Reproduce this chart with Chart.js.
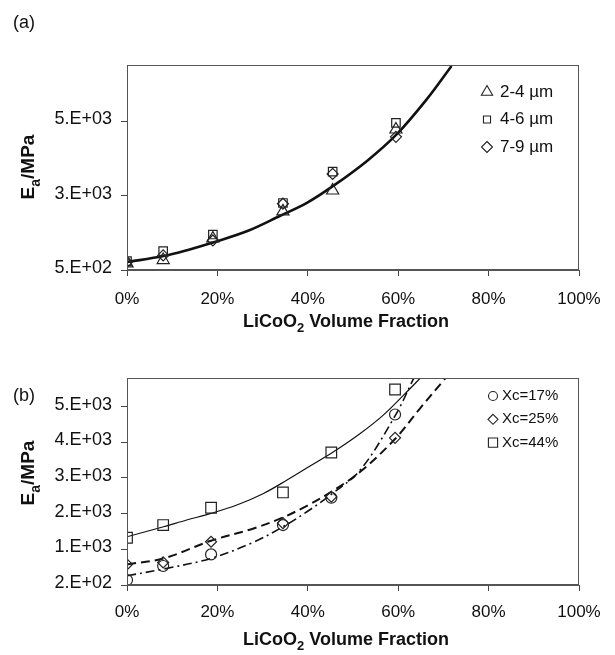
<!DOCTYPE html>
<html><head><meta charset="utf-8">
<script src="https://cdn.jsdelivr.net/npm/chart.js@4.4.1/dist/chart.umd.min.js"></script>
<style>
html,body{margin:0;padding:0;background:#fff;}
#wrap{position:relative;width:615px;height:655px;background:#fff;}
canvas{position:absolute;left:0;}
</style></head><body>
<div id="wrap">
<canvas id="ca" width="615" height="345" style="top:0"></canvas>
<canvas id="cb" width="615" height="310" style="top:345px"></canvas>
</div>
<script>
// ---------- data ----------
const xTickValues = [0, 20, 40, 60, 80, 100];
const xTickLabels = ['0%', '20%', '40%', '60%', '80%', '100%'];

// panel (a)
const aTickValues = [500, 2750, 5000];
const aTickLabels = ['5.E+02', '3.E+03', '5.E+03'];
const aX   = [0, 8, 19, 34.5, 45.5, 59.5];
const a2_4 = [701, 801, 1453, 2274, 2905, 4750];
const a4_6 = [770, 1071, 1573, 2526, 3476, 4949];
const a7_9 = [740, 942, 1393, 2505, 3407, 4528];
const aFitX = [0, 8.1, 13.3, 19.2, 26.5, 33.9, 39.8, 45.7, 53.1, 59.7, 66.3, 71.8];
const aFitY = [740, 921, 1101, 1340, 1670, 2140, 2530, 3050, 3800, 4609, 5660, 6670];
const aLabels = ['2-4 µm', '4-6 µm', '7-9 µm'];

// panel (b)
const bTickValues = [200, 1200, 2200, 3200, 4200, 5200];
const bTickLabels = ['2.E+02', '1.E+03', '2.E+03', '3.E+03', '4.E+03', '5.E+03'];
const bX   = [0, 8, 18.6, 34.5, 45.2, 59.3];
const bXc17 = [340, 732, 1057, 1880, 2644, 4977];
const bXc25 = [777, 833, 1412, 1932, 2672, 4324];
const bXc44 = [1524, 1880, 2364, 2793, 3913, 5677];
const b17FitX = [0, 8.1, 18.6, 28, 34.5, 39.8, 45.2, 51.6, 59.4, 63.4];
const b17FitY = [460, 648, 945, 1400, 1832, 2252, 2740, 3420, 4960, 5985];
const b25FitX = [0, 8.1, 18.6, 28, 34.5, 39.8, 45.2, 51.6, 59.4, 64.8, 70.4];
const b25FitY = [777, 945, 1440, 1785, 2093, 2420, 2812, 3372, 4305, 5145, 5985];
const b44FitX = [0, 8.1, 13.2, 18.6, 24.3, 30.2, 35.4, 40.5, 45.7, 51.6, 56.7, 61.2, 64.8];
const b44FitY = [1552, 1832, 2020, 2205, 2440, 2765, 3140, 3532, 3932, 4445, 4960, 5520, 5985];
const bLabels = ['Xc=17%', 'Xc=25%', 'Xc=44%'];

const xTitleParts = [['LiCoO', 0], ['2', 1], [' Volume Fraction', 0]];
const yTitleParts = [['E', 0], ['a', 1], ['/MPa', 0]];

// ---------- helpers ----------
const FONT = '"Liberation Sans", Arial, Helvetica, sans-serif';
const pts = (xs, ys) => xs.map((x, i) => ({ x: x, y: ys[i] }));

function drawRich(ctx, parts, x, y, size) {
  const fonts = parts.map(p => p[1] ? `bold ${Math.round(size * 0.72)}px ${FONT}` : `bold ${size}px ${FONT}`);
  let w = 0;
  const ws = parts.map((p, i) => { ctx.font = fonts[i]; const m = ctx.measureText(p[0]).width; w += m; return m; });
  let cx = x - w / 2;
  parts.forEach((p, i) => {
    ctx.font = fonts[i];
    ctx.fillText(p[0], cx, y + (p[1] ? size * 0.3 : 0));
    cx += ws[i];
  });
}

function drawMarker(ctx, style, r, x, y, bw) {
  ctx.beginPath();
  if (style === 'triangle') {
    for (let k = 0; k < 3; k++) {
      const a = k * 2 * Math.PI / 3;
      const px = x + Math.sin(a) * r, py = y - Math.cos(a) * r;
      k ? ctx.lineTo(px, py) : ctx.moveTo(px, py);
    }
    ctx.closePath();
  } else if (style === 'rect') {
    const s = r * Math.SQRT1_2;
    ctx.rect(x - s, y - s, 2 * s, 2 * s);
  } else if (style === 'rectRot') {
    ctx.moveTo(x, y - r); ctx.lineTo(x + r, y); ctx.lineTo(x, y + r); ctx.lineTo(x - r, y); ctx.closePath();
  } else {
    ctx.arc(x, y, r, 0, Math.PI * 2);
  }
  ctx.lineWidth = bw;
  ctx.stroke();
}

const decor = {
  id: 'decor',
  afterDraw(chart, args, o) {
    const ctx = chart.ctx, ca = chart.chartArea;
    ctx.save();
    ctx.strokeStyle = '#555';
    ctx.lineWidth = 1;
    ctx.strokeRect(Math.round(ca.left) + 0.5, Math.round(ca.top) + 0.5,
                   Math.round(ca.right - ca.left) - 1, Math.round(ca.bottom - ca.top) - 1);
    ctx.fillStyle = '#111';
    ctx.textBaseline = 'alphabetic';
    ctx.textAlign = 'left';
    ctx.font = `18px ${FONT}`;
    ctx.fillText(o.panel, o.panelX, o.panelY);
    drawRich(ctx, xTitleParts, o.xTitleX, o.xTitleY, 18);
    ctx.save();
    ctx.translate(o.yTitleX, o.yTitleY);
    ctx.rotate(-Math.PI / 2);
    drawRich(ctx, yTitleParts, 0, 0, 19);
    ctx.restore();
    ctx.textBaseline = 'middle';
    ctx.font = `${o.legFont}px ${FONT}`;
    let row = 0;
    chart.data.datasets.forEach(ds => {
      if (!ds.legendText) return;
      const y = o.legY + row * o.legDy;
      ctx.strokeStyle = '#222';
      drawMarker(ctx, ds.pointStyle, ds.legendRadius, o.legMarkX, y, 1.1);
      ctx.fillStyle = '#111';
      ctx.fillText(ds.legendText, o.legTextX, y);
      row++;
    });
    ctx.restore();
  }
};

function scaleX(tickPad) {
  return {
    type: 'linear', min: 0, max: 100,
    afterBuildTicks: s => { s.ticks = xTickValues.map(v => ({ value: v })); },
    afterFit: s => { s.height = s.chart.height - s.chart.options.plotBottom; },
    ticks: {
      callback: (v, i) => xTickLabels[i],
      font: { family: FONT, size: 17 }, color: '#111', padding: tickPad, maxRotation: 0, autoSkip: false
    },
    grid: { drawOnChartArea: false, drawTicks: true, tickLength: 6, color: '#444', lineWidth: 1 },
    border: { display: true, color: '#555', width: 1 }
  };
}
function scaleY(min, max, vals, labels) {
  return {
    type: 'linear', min: min, max: max,
    afterBuildTicks: s => { s.ticks = vals.map(v => ({ value: v })); },
    afterFit: s => { s.width = 127; },
    ticks: {
      callback: (v, i) => labels[i],
      font: { family: FONT, size: 18 }, color: '#111', padding: 9, labelOffset: -2, autoSkip: false
    },
    grid: { drawOnChartArea: false, drawTicks: true, tickLength: 6, color: '#444', lineWidth: 1 },
    border: { display: true, color: '#555', width: 1 }
  };
}
function markerDs(xs, ys, style, r, leg, legR) {
  return {
    data: pts(xs, ys), pointStyle: style, pointRadius: r, pointBorderWidth: 1.2,
    pointBackgroundColor: 'rgba(0,0,0,0)', pointBorderColor: '#222', showLine: false,
    legendText: leg, legendRadius: legR
  };
}
function lineDs(xs, ys, width, dash) {
  return {
    data: pts(xs, ys), showLine: true, pointRadius: 0, borderColor: '#111', borderWidth: width,
    borderDash: dash, tension: 0.35, fill: false
  };
}
const base = {
  responsive: false, animation: false, events: [],
  plugins: { legend: { display: false }, tooltip: { enabled: false } }
};

// ---------- panel (a) ----------
new Chart(document.getElementById('ca'), {
  type: 'scatter',
  data: {
    datasets: [
      markerDs(aX, a2_4, 'triangle', 7, aLabels[0], 6.5),
      markerDs(aX, a4_6, 'rect', 6, aLabels[1], 5),
      markerDs(aX, a7_9, 'rectRot', 5.5, aLabels[2], 5.5),
      lineDs(aFitX, aFitY, 2.6, [])
    ]
  },
  options: Object.assign({}, base, {
    plotBottom: 270,
    layout: { padding: { left: 0, right: 36, top: 65, bottom: 0 } },
    scales: { x: scaleX(13), y: scaleY(500, 6700, aTickValues, aTickLabels) },
    plugins: Object.assign({}, base.plugins, {
      decor: { panel: '(a)', panelX: 13, panelY: 28, xTitleX: 346, xTitleY: 327,
               yTitleX: 34, yTitleY: 167, legFont: 17, legMarkX: 487, legTextX: 500, legY: 92, legDy: 27.5 }
    })
  }),
  plugins: [decor]
});

// ---------- panel (b) ----------
new Chart(document.getElementById('cb'), {
  type: 'scatter',
  data: {
    datasets: [
      markerDs(bX, bXc17, 'circle', 5.5, bLabels[0], 4.5),
      markerDs(bX, bXc25, 'rectRot', 5.5, bLabels[1], 5),
      markerDs(bX, bXc44, 'rect', 7.5, bLabels[2], 6.5),
      lineDs(b17FitX, b17FitY, 1.6, [9, 4, 2, 4]),
      lineDs(b25FitX, b25FitY, 2, [9, 5]),
      lineDs(b44FitX, b44FitY, 1.2, [])
    ]
  },
  options: Object.assign({}, base, {
    plotBottom: 240,
    layout: { padding: { left: 0, right: 36, top: 33, bottom: 0 } },
    scales: { x: scaleX(11), y: scaleY(200, 6000, bTickValues, bTickLabels) },
    plugins: Object.assign({}, base.plugins, {
      decor: { panel: '(b)', panelX: 13, panelY: 56, xTitleX: 346, xTitleY: 300,
               yTitleX: 34, yTitleY: 128, legFont: 15, legMarkX: 493, legTextX: 502, legY: 51, legDy: 23.3 }
    })
  }),
  plugins: [decor]
});
</script>
</body></html>
